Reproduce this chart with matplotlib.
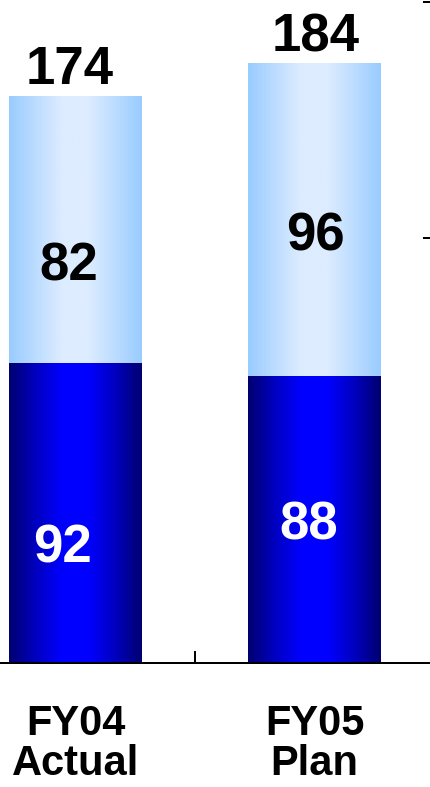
import numpy as np
import matplotlib
matplotlib.use("Agg")
import matplotlib.pyplot as plt
from matplotlib.colors import LinearSegmentedColormap

# ---- data ----
categories = ["FY04\nActual", "FY05\nPlan"]
bottom_values = [92, 88]     # dark blue segment
top_values = [82, 96]        # light blue segment
totals = [174, 184]
right_ticks = [130.4, 202.8]

# ---- style ----
DPI = 100
W, H = 430, 787
px = 72.0 / DPI  # points per pixel
plt.rcParams['font.family'] = ['Liberation Sans', 'DejaVu Sans']

fig = plt.figure(figsize=(W / DPI, H / DPI), dpi=DPI)
ax = fig.add_axes([0, 124 / H, 1, 663 / H])

x = np.arange(len(categories))
bar_w = 133 / 239
ax.set_xlim(-75.5 / 239, (W - 75.5) / 239)
ax.set_ylim(0, 663 / 3.26)

dark_cmap = LinearSegmentedColormap.from_list(
    "dark", ["#000070", "#0000c0", "#0000ff", "#0000ff", "#0000c0", "#000070"])
light_cmap = LinearSegmentedColormap.from_list(
    "light", ["#99ccff", "#bcdcff", "#ddecff", "#ddecff", "#bcdcff", "#99ccff"])
grad = np.linspace(0, 1, 256).reshape(1, -1)

bars_dark = ax.bar(x, bottom_values, width=bar_w, color="none", linewidth=0)
bars_light = ax.bar(x, top_values, width=bar_w, bottom=bottom_values,
                    color="none", linewidth=0)
for bars, cmap in ((bars_dark, dark_cmap), (bars_light, light_cmap)):
    for p in bars:
        x0, y0 = p.get_x(), p.get_y()
        im = ax.imshow(grad, extent=[x0, x0 + p.get_width(), y0, y0 + p.get_height()],
                       aspect="auto", cmap=cmap, interpolation="bilinear", zorder=2)
        im.set_clip_path(p)

ax.set_xlim(-75.5 / 239, (W - 75.5) / 239)
ax.set_ylim(0, 663 / 3.26)

# value labels
num_fs = 38
tot_dx = [-5.5, 1.5]
top_dx = [-7, 0.5]
top_dy = [50.6, 30.4]
bot_dx = [-13.5, -5.5]
bot_dy = [49, 20.4]
for i in range(len(categories)):
    ax.annotate(str(totals[i]), (x[i], totals[i]), xytext=(tot_dx[i] * px, 12 * px),
                textcoords="offset points", ha="center", va="baseline",
                fontsize=num_fs, fontweight="bold", color="black", zorder=5)
    ax.annotate(str(top_values[i]), (x[i], bottom_values[i] + top_values[i] / 2),
                xytext=(top_dx[i] * px, -top_dy[i] * px), textcoords="offset points",
                ha="center", va="baseline", fontsize=num_fs, fontweight="bold",
                color="black", zorder=5)
    ax.annotate(str(bottom_values[i]), (x[i], bottom_values[i] / 2),
                xytext=(bot_dx[i] * px, -bot_dy[i] * px), textcoords="offset points",
                ha="center", va="baseline", fontsize=num_fs, fontweight="bold",
                color="white", zorder=5)

# axes styling
for s in ("left", "right", "top"):
    ax.spines[s].set_visible(False)
ax.spines["bottom"].set_linewidth(2 * px)
ax.spines["bottom"].set_zorder(6)

ax.set_xticks(x)
ax.set_xticklabels(categories, fontsize=30, fontweight="bold", linespacing=1.0)
ax.tick_params(axis="x", which="major", length=0, pad=41 * px)
ax.set_xticks([0.5], minor=True)
ax.tick_params(axis="x", which="minor", direction="in", length=12 * px,
               width=2 * px, color="black")

ax.set_yticks(right_ticks)
ax.yaxis.tick_right()
ax.tick_params(axis="y", direction="in", length=7 * px, width=2 * px,
               labelright=False, labelleft=False)

fig.savefig("out.png", dpi=DPI)
